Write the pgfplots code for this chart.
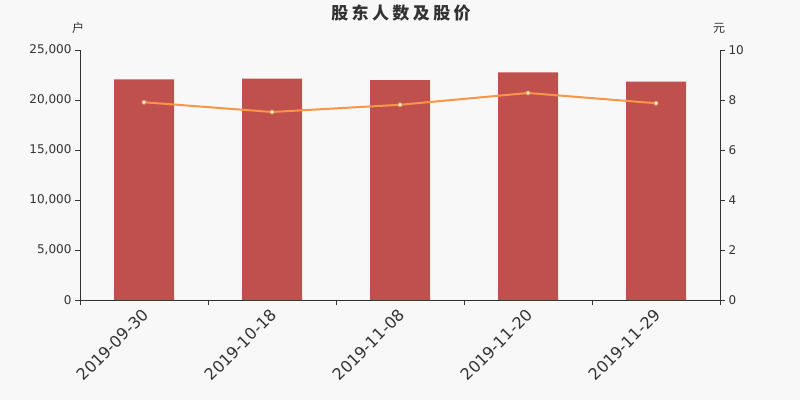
\documentclass[border=0pt]{standalone}
\usepackage{fontspec}
\setmainfont{DejaVu Sans}
\newfontfamily\cjk{Noto Sans CJK SC}
\newfontfamily\cjktitle[LetterSpace=20]{Noto Sans CJK SC}
\usepackage{pgfplots}
\pgfplotsset{compat=1.18}
\definecolor{bg}{HTML}{F8F8F8}
\definecolor{barred}{HTML}{C0504D}
\definecolor{lineorange}{HTML}{F79646}
\definecolor{txt}{HTML}{333333}

\pgfplotsset{
  common/.style={
    width=640pt, height=250pt, scale only axis,
    xmin=-0.5, xmax=4.5,
    tick align=outside, major tick length=5pt,
    axis line style={draw=txt,-},
    tick style={draw=txt},
    /pgf/number format/assume math mode=true,
    tick label style={font=\fontsize{12}{14}\selectfont, text=txt},
  }
}

\begin{document}
\begin{tikzpicture}[x=1pt,y=1pt]
\fill[bg] (0,0) rectangle (800,400);

% left axis: number of shareholders
\begin{axis}[common, name=ax1,
  at={(80pt,100pt)}, anchor=south west,
  ymin=0, ymax=25000,
  ytick={0,5000,...,25000},
  scaled y ticks=false,
  yticklabel style={/pgf/number format/1000 sep={,}},
  axis x line*=bottom, axis y line*=left,
  xtick={-0.5,0.5,...,4.5}, xticklabels={},
  extra x ticks={0,1,2,3,4},
  extra x tick labels={2019-09-30,2019-10-18,2019-11-08,2019-11-20,2019-11-29},
  extra x tick style={major tick length=0pt,
    tick label style={rotate=45, anchor=north east, xshift=-4pt,
      font=\fontsize{16}{18}\selectfont, text=txt}},
]
\addplot[ybar, bar width=60pt, fill=barred, draw=none] coordinates {
  (0,22070) (1,22130) (2,22000) (3,22770) (4,21830)
};
\end{axis}

% right axis: share price
\begin{axis}[common,
  at={(ax1.south west)}, anchor=south west,
  ymin=0, ymax=10,
  ytick={0,2,...,10},
  hide x axis, axis y line*=right,
]
\addplot[lineorange, line width=2pt, mark=*, mark size=2pt,
  mark options={fill=white, draw=lineorange, line width=0.8pt}] coordinates {
  (0,7.91) (1,7.52) (2,7.81) (3,8.28) (4,7.87)
};
\end{axis}

\node[text=txt, font=\cjktitle\bfseries\fontsize{17}{19}\selectfont] at (401,386.5) {股东人数及股价};
\node[text=txt, font=\cjk\fontsize{12}{14}\selectfont] at (78,372) {户};
\node[text=txt, font=\cjk\fontsize{12}{14}\selectfont] at (719,372) {元};
\end{tikzpicture}
\end{document}
